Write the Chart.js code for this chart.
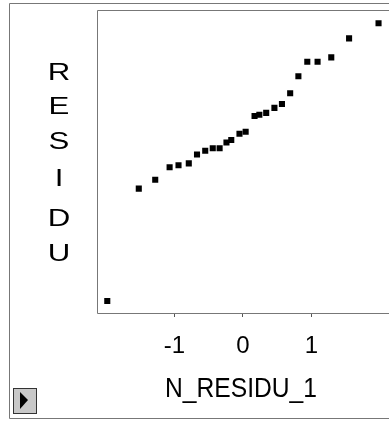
<!DOCTYPE html>
<html>
<head>
<meta charset="utf-8">
<script src="https://cdn.jsdelivr.net/npm/chart.js@4"></script>
<style>
  html, body { margin: 0; padding: 0; background: #fff; overflow: hidden; }
  #wrap { width: 389px; height: 421px; }
</style>
</head>
<body>
<div id="wrap"><canvas id="myChart" width="389" height="421"></canvas></div>
<script>
// normal scores (x) against residuals (y)
var normalScores = [-1.98, -1.52, -1.28, -1.07, -0.94, -0.79, -0.67, -0.55, -0.44, -0.34, -0.24, -0.17, -0.05,
                    0.04, 0.17, 0.24, 0.34, 0.46, 0.57, 0.69, 0.81, 0.94, 1.09, 1.29, 1.55, 1.98];
var residuals = [-2.21, -0.43, -0.29, -0.09, -0.06, -0.03, 0.11, 0.17, 0.21, 0.21, 0.30, 0.34, 0.44,
                 0.47, 0.72, 0.74, 0.77, 0.85, 0.91, 1.08, 1.35, 1.58, 1.58, 1.65, 1.95, 2.19];
var xTicks = [-1, 0, 1];
var yTitle = ['R', 'E', 'S', 'I', 'D', 'U'];
var xTitle = 'N_RESIDU_1';

var points = [];
for (var i = 0; i < normalScores.length; i++) {
  points.push({x: normalScores[i], y: residuals[i]});
}

var fontName = '"Liberation Sans", Arial, sans-serif';

// frame, titles and the little button in the corner
var framePlugin = {
  id: 'frame',
  afterDraw: function(chart) {
    var ctx = chart.ctx;
    var area = chart.chartArea;
    ctx.save();
    ctx.strokeStyle = '#777';
    ctx.lineWidth = 1;

    // window frame
    ctx.beginPath();
    ctx.moveTo(389, 3.5); ctx.lineTo(9.5, 3.5); ctx.lineTo(9.5, 418.5); ctx.lineTo(389, 418.5);
    ctx.stroke();

    // plot box, open on the right
    ctx.beginPath();
    ctx.moveTo(389, Math.round(area.top) + 0.5);
    ctx.lineTo(Math.round(area.left) + 0.5, Math.round(area.top) + 0.5);
    ctx.lineTo(Math.round(area.left) + 0.5, Math.round(area.bottom) + 0.5);
    ctx.lineTo(389, Math.round(area.bottom) + 0.5);
    ctx.stroke();

    ctx.fillStyle = '#000';
    ctx.textAlign = 'center';
    ctx.textBaseline = 'middle';

    // stacked, slightly wide letters
    ctx.font = '24px ' + fontName;
    var ys = [72, 106, 141, 178, 218, 253];
    for (var k = 0; k < yTitle.length; k++) {
      ctx.save();
      ctx.translate(59, ys[k] + 1);
      ctx.scale(1.3, 1);
      ctx.fillText(yTitle[k], 0, 0);
      ctx.restore();
    }

    ctx.font = '27px ' + fontName;
    ctx.fillText(xTitle, 241, 390, 152);

    // button
    ctx.fillStyle = '#c8c8c8';
    ctx.fillRect(13, 388, 24, 26);
    ctx.strokeStyle = '#333';
    ctx.strokeRect(13.5, 388.5, 23, 25);
    ctx.fillStyle = '#000';
    ctx.beginPath();
    ctx.moveTo(20, 392); ctx.lineTo(28, 400); ctx.lineTo(20, 409);
    ctx.closePath();
    ctx.fill();

    ctx.restore();
  }
};

var myChart = new Chart(document.getElementById('myChart').getContext('2d'), {
  type: 'scatter',
  data: {
    datasets: [{
      data: points,
      pointStyle: 'rect',
      pointRadius: 4.3,
      pointBorderWidth: 0,
      backgroundColor: '#000',
      borderColor: '#000'
    }]
  },
  options: {
    responsive: false,
    animation: false,
    layout: { padding: { left: 97, top: 10, right: 0, bottom: 0 } },
    plugins: {
      legend: { display: false },
      tooltip: { enabled: false }
    },
    scales: {
      x: {
        type: 'linear',
        min: -2.13,
        max: 2.07,
        afterBuildTicks: function(scale) {
          scale.ticks = xTicks.map(function(v) { return {value: v}; });
        },
        afterFit: function(scale) {
          scale.height = 108;
        },
        ticks: {
          color: '#000',
          padding: 15,
          font: { family: fontName, size: 24 },
          callback: function(v) { return String(v); }
        },
        grid: { drawOnChartArea: false, drawTicks: true, tickLength: 4, color: '#555' },
        border: { display: false }
      },
      y: {
        display: false,
        min: -2.4,
        max: 2.4
      }
    }
  },
  plugins: [framePlugin]
});
</script>
</body>
</html>
